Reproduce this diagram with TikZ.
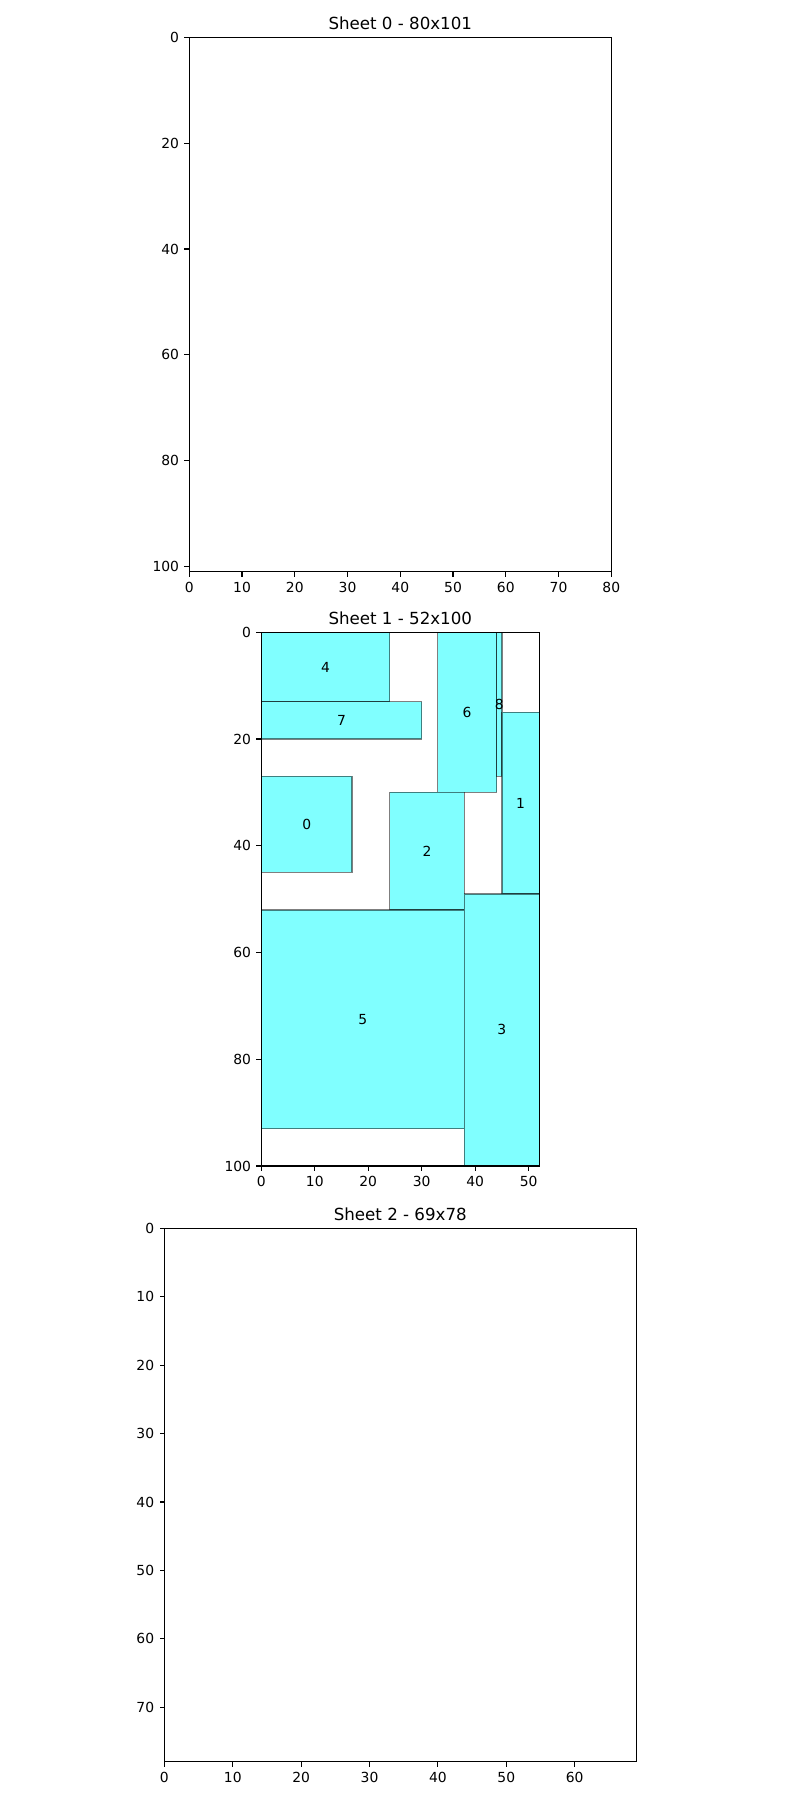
\documentclass[tikz,border=0pt]{standalone}
\usepackage{fontspec}
\setmainfont{DejaVu Sans}
\definecolor{piecefill}{RGB}{128,255,255}
\begin{document}
\begin{tikzpicture}[x=0.5pt,y=-0.5pt,
  frame/.style={draw=black,line width=0.555pt},
  tickmark/.style={draw=black,line width=0.555pt},
  ticklab/.style={inner sep=0pt,font=\fontsize{6.94pt}{8pt}\selectfont},
  titlelab/.style={inner sep=0pt,anchor=base,font=\fontsize{8.33pt}{10pt}\selectfont},
  piece/.style={fill=piecefill,draw=black,draw opacity=0.5,line width=0.69pt},
  piecelab/.style={inner sep=0pt,font=\fontsize{6.94pt}{8pt}\selectfont}]
\useasboundingbox (0,0) rectangle (800,1800);
% ---------- Sheet 0 ----------
\node[titlelab] (t0) at (400.3,29.0) {Sheet 0 - 80x101};
\begin{scope}[xshift=94.65pt,yshift=-18.65pt,x=2.6375pt,y=-2.6457pt]
  \draw[frame] (0,0) rectangle (80,101);
  \foreach \v in {0,10,...,80}{
    \draw[tickmark] (\v,101) -- ++(0pt,-2.43pt) node[ticklab,anchor=north,yshift=-2.43pt] (s0x\v) {\v};}
  \foreach \v in {0,20,...,100}{
    \draw[tickmark] (0,\v) -- ++(-2.43pt,0pt) node[ticklab,anchor=east,xshift=-2.43pt] (s0y\v) {\v};}
\end{scope}
% ---------- Sheet 1 ----------
\node[titlelab] (t1) at (400.3,624.0) {Sheet 1 - 52x100};
\begin{scope}[xshift=130.65pt,yshift=-316.15pt,x=2.6731pt,y=-2.6685pt]
  \draw[piece] (0,0) rectangle (24,13);
  \node[piecelab] (p4) at (12,6.5) {4};
  \draw[piece] (0,13) rectangle (30,20);
  \node[piecelab] (p7) at (15,16.5) {7};
  \draw[piece] (33,0) rectangle (44,30);
  \node[piecelab] (p6) at (38.5,15) {6};
  \draw[piece] (44,0) rectangle (45,27);
  \node[piecelab] (p8) at (44.5,13.5) {8};
  \draw[piece] (45,15) rectangle (52,49);
  \node[piecelab] (p1) at (48.5,32) {1};
  \draw[piece] (0,27) rectangle (17,45);
  \node[piecelab] (p0) at (8.5,36) {0};
  \draw[piece] (24,30) rectangle (38,52);
  \node[piecelab] (p2) at (31,41) {2};
  \draw[piece] (0,52) rectangle (38,93);
  \node[piecelab] (p5) at (19,72.5) {5};
  \draw[piece] (38,49) rectangle (52,100);
  \node[piecelab] (p3) at (45,74.5) {3};
  \draw[frame] (0,0) rectangle (52,100);
  \foreach \v in {0,10,...,50}{
    \draw[tickmark] (\v,100) -- ++(0pt,-2.43pt) node[ticklab,anchor=north,yshift=-2.43pt] (s1x\v) {\v};}
  \foreach \v in {0,20,...,100}{
    \draw[tickmark] (0,\v) -- ++(-2.43pt,0pt) node[ticklab,anchor=east,xshift=-2.43pt] (s1y\v) {\v};}
\end{scope}
% ---------- Sheet 2 ----------
\node[titlelab] (t2) at (400.3,1220.2) {Sheet 2 - 69x78};
\begin{scope}[xshift=82.2pt,yshift=-614.25pt,x=3.4187pt,y=-3.4187pt]
  \draw[frame] (0,0) rectangle (69,78);
  \foreach \v in {0,10,...,60}{
    \draw[tickmark] (\v,78) -- ++(0pt,-2.43pt) node[ticklab,anchor=north,yshift=-2.43pt] (s2x\v) {\v};}
  \foreach \v in {0,10,...,70}{
    \draw[tickmark] (0,\v) -- ++(-2.43pt,0pt) node[ticklab,anchor=east,xshift=-2.43pt] (s2y\v) {\v};}
\end{scope}
\end{tikzpicture}
\end{document}
